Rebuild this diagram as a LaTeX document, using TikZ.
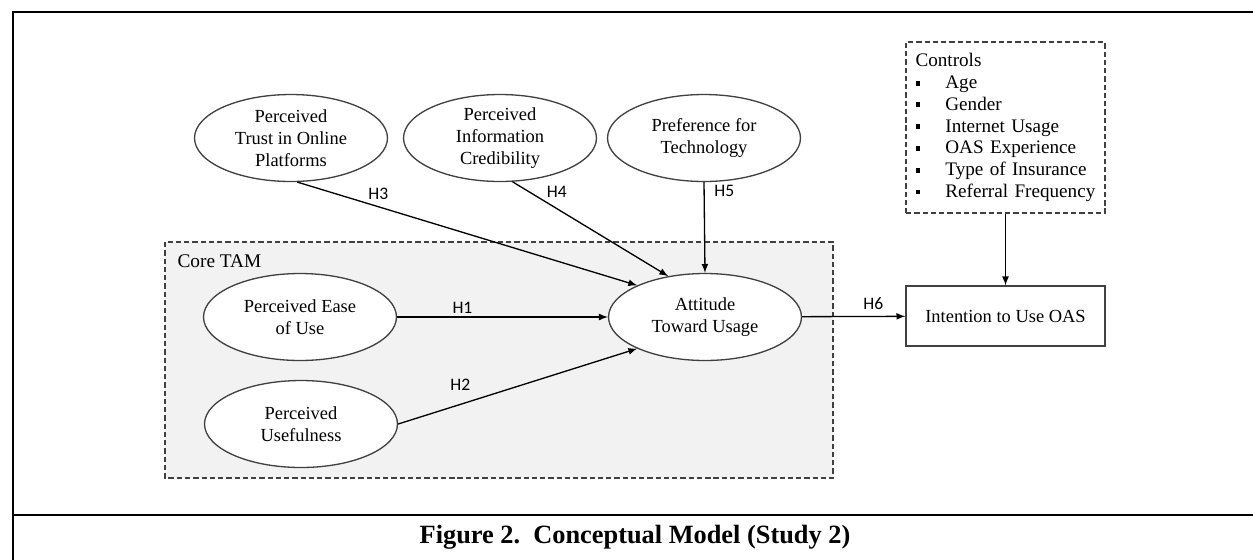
\documentclass[tikz,border=0pt]{standalone}
\usepackage{fontspec}
\setmainfont{Liberation Serif}
\newfontfamily\hypfont{Carlito}
\usetikzlibrary{shapes.geometric}

\definecolor{linegray}{RGB}{64,64,64}
\definecolor{boxgray}{RGB}{242,242,242}
\newcommand{\ctrlitem}{\makebox[17pt][l]{\rule[1.7pt]{2.8pt}{2.8pt}}}

\begin{document}
\begin{tikzpicture}
            [->, >=latex, x=0.02cm, y=-0.02cm, line width=0.75pt,
             construct/.style={shape=ellipse, draw=linegray, fill=white, minimum width=3.86cm,
                               minimum height=1.74cm, inner sep=0pt, align=center,
                               font=\fontsize{10.5}{12.6}\selectfont},
             hyp/.style={font=\hypfont\fontsize{10}{12}\selectfont, inner sep=1.5pt},
             dashbox/.style={draw=linegray, dash pattern=on 3pt off 1.7pt}]
            \useasboundingbox (0,0) rectangle (1253,559);

            % frame and caption
            \draw[-, line width=1.6pt] (13,562) -- (13,12) -- (1260,12);
            \draw[-, line width=1.6pt] (13,515) -- (1260,515);
            \node[font=\bfseries\fontsize{15}{18}\selectfont] (caption) at (635,537) {Figure 2.\ \ Conceptual Model (Study 2)};

            % core TAM block
            \draw[-, dashbox, fill=boxgray] (165,242) rectangle (833,478);
            \node[anchor=west, font=\fontsize{11}{13}\selectfont] (coretam) at (171,261) {Core TAM};

            \node[construct] (trust) at (291,138) {Perceived\\Trust in Online\\Platforms};
            \node[construct] (cred) at (500,138) {Perceived\\Information\\Credibility};
            \node[construct] (pref) at (704,138) {Preference for\\Technology};
            \node[construct] (ease) at (300,317) {Perceived Ease\\of Use};
            \node[construct] (useful) at (301,424) {Perceived\\Usefulness};
            \node[construct] (attitude) at (705,317) {Attitude\\Toward Usage};

            \node[draw=linegray, minimum width=3.98cm, minimum height=1.2cm,
                  font=\fontsize{10.5}{12.6}\selectfont] (intention) at (1005.5,316) {Intention to Use OAS};
            \node[dashbox, minimum width=3.98cm, minimum height=3.42cm, text width=3.6cm, align=left,
                  font=\fontsize{10.9}{12.4}\selectfont] (controls) at (1005.5,127.5)
                  {Controls\\ \ctrlitem Age\\ \ctrlitem Gender\\ \ctrlitem Internet Usage\\
                   \ctrlitem OAS Experience\\ \ctrlitem Type of Insurance\\ \ctrlitem Referral Frequency};

            \path [->] (ease) edge node[hyp, pos=0.31, above] {H1} (attitude);
            \path [->] (useful.0) edge node[hyp, pos=0.26, above, yshift=6pt] {H2} (attitude.205);
            \path [->] (trust.-82) edge node[hyp, pos=0.2, above right] {H3} (attitude.155);
            \path [->] (cred.-74) edge node[hyp, pos=0.2, above right] {H4} (attitude.132);
            \path [->] (pref.south) edge node[hyp, pos=0.1, right, xshift=4pt] {H5} (attitude.north);
            \path [->] (attitude) edge node[hyp, pos=0.69, above, yshift=2pt] {H6} (intention);
            \path [->] (controls) edge (intention);
        \end{tikzpicture}
\end{document}
